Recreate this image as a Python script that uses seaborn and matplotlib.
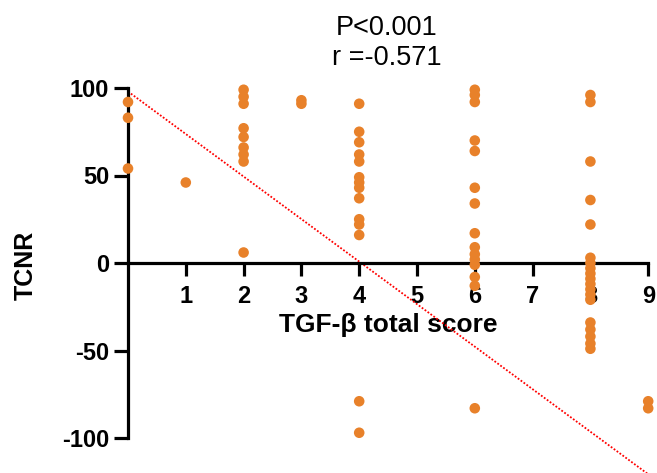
import numpy as np
import pandas as pd
import matplotlib
matplotlib.use("Agg")
import matplotlib.pyplot as plt
import seaborn as sns

# ---------------------------------------------------------------
# Data (TGF-beta total score vs TCNR)
# ---------------------------------------------------------------
score_0 = [92, 83, 54]
score_1 = [46]
score_2 = [99, 95, 91, 77, 72, 66, 62, 58, 6]
score_3 = [93, 91]
score_4 = [91, 75, 69, 62, 58, 49, 46, 43, 37, 25, 22, 16, -79, -97]
score_6 = [99, 96, 92, 70, 64, 43, 34, 17, 9, 5, 2, -1, -8, -13, -83]
score_8 = [96, 92, 58, 36, 22, 3, 0, -3, -6, -9, -12, -15, -18, -21,
           -34, -38, -42, -46, -49]
score_9 = [-79, -83]

groups = {0: score_0, 1: score_1, 2: score_2, 3: score_3,
          4: score_4, 6: score_6, 8: score_8, 9: score_9}

# regression line (intercept / slope)
fit_intercept = 98.0
fit_slope = -24.3
fit_x = [0, 9.3]

x_ticks = [1, 2, 3, 4, 5, 6, 7, 8, 9]
y_ticks = [-100, -50, 0, 50, 100]
stats_text = "P<0.001\nr =-0.571"

ORANGE = "#E8812A"

# ---------------------------------------------------------------
df = pd.DataFrame(
    [(k, v) for k, vals in groups.items() for v in vals],
    columns=["score", "tcnr"],
)

sns.set_style("ticks")
plt.rcParams["font.family"] = ["Liberation Sans", "DejaVu Sans"]
plt.rcParams["text.color"] = "black"
plt.rcParams["axes.labelcolor"] = "black"
plt.rcParams["xtick.color"] = "black"
plt.rcParams["ytick.color"] = "black"

fig = plt.figure(figsize=(6.57, 4.73), dpi=100)
ax = fig.add_axes([128 / 657, 0, 529 / 657, 385 / 473])

lx = np.array(fit_x)
ax.plot(lx, fit_intercept + fit_slope * lx, linestyle=(0, (1, 1)),
        color="red", linewidth=1.3, zorder=2)

sns.scatterplot(data=df, x="score", y="tcnr", color=ORANGE, s=58,
                edgecolor="none", linewidth=0, ax=ax, zorder=3,
                clip_on=False)

ax.set_xlim(0, 529 / 57.8)
ax.set_ylim(-120, 100)

for side in ["top", "right"]:
    ax.spines[side].set_visible(False)
ax.spines["left"].set_bounds(-100, 100)
ax.spines["bottom"].set_position(("data", 0))
ax.spines["bottom"].set_bounds(0, 9)
for side in ["left", "bottom"]:
    ax.spines[side].set_linewidth(2.3)
    ax.spines[side].set_color("black")

ax.set_xticks(x_ticks)
ax.set_yticks(y_ticks)
ax.set_yticklabels([str(v) for v in y_ticks])
ax.tick_params(axis="y", length=10, width=2.3, pad=3.5, labelsize=17,
               colors="black")
ax.tick_params(axis="x", length=9.5, width=2.3, pad=6, labelsize=17,
               colors="black")
for lab in ax.get_xticklabels() + ax.get_yticklabels():
    lab.set_fontweight("bold")

ax.set_xlabel("TGF-β total score", fontsize=19, fontweight="bold",
              color="black")
ax.xaxis.set_label_coords((388 - 128) / 529, (473 - 325) / 385)
ax.xaxis.label.set_va("center")
ax.set_ylabel("TCNR", fontsize=18, fontweight="bold", color="black")
ax.yaxis.set_label_coords((26 - 128) / 529, (473 - 265) / 385)
ax.yaxis.label.set_va("center")

fig.text(387 / 657, 1 - 43 / 473, stats_text, ha="center", va="center",
         fontsize=19.5, linespacing=1.2, color="black")

fig.savefig("out.png", dpi=100)
